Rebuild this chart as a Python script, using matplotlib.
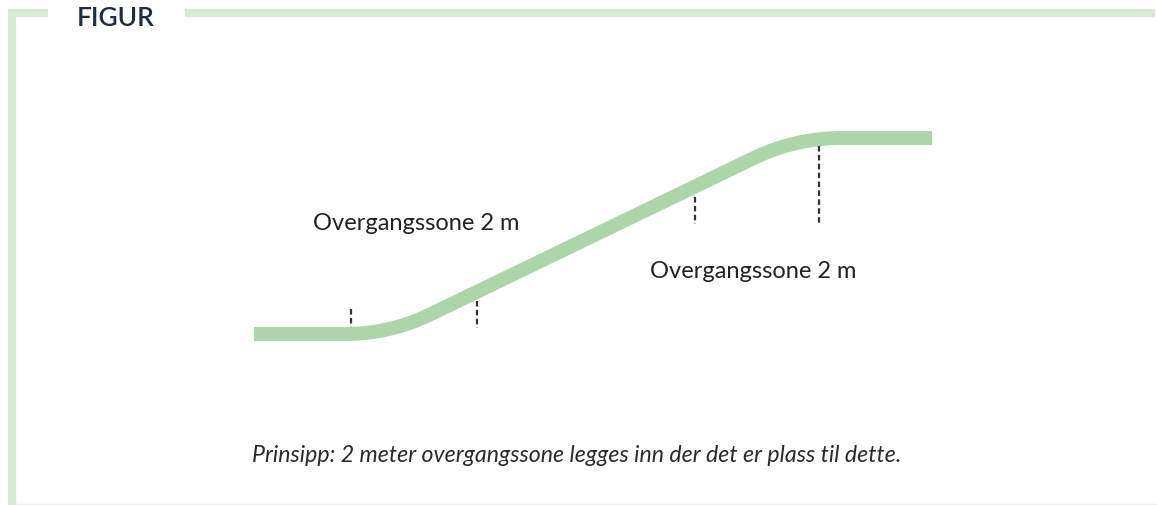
import numpy as np
from matplotlib import pyplot as plt

# profile of the slope (x, y in picture units, y downward)
flat_low = [(254, 335), (345, 335)]
bend_low = [(345, 335), (389, 335), (429, 316)]
bend_high = [(756, 158), (797, 139), (842, 139)]
flat_high = [(842, 139), (932, 139)]

# dashed markers: x, y_top, y_bottom
marker_x = [351, 477, 695, 819]
marker_top = [310, 302, 198, 147]
marker_bottom = [328, 329, 225, 225]

labels = ["Overgangssone 2 m", "Overgangssone 2 m"]
label_pos = [(313, 224), (650, 272)]
caption = "Prinsipp: 2 meter overgangssone legges inn der det er plass til dette."

GREEN = "#acd5a9"
FRAME = "#d7ead5"


def bezier(p0, p1, p2, n=40):
    t = np.linspace(0, 1, n)[:, None]
    p0, p1, p2 = np.array(p0), np.array(p1), np.array(p2)
    return (1 - t) ** 2 * p0 + 2 * (1 - t) * t * p1 + t ** 2 * p2


pts = np.vstack([np.array(flat_low), bezier(*bend_low), bezier(*bend_high), np.array(flat_high)])

fig = plt.figure(figsize=(11.57, 5.06), dpi=100)
ax = fig.add_axes([0, 0, 1, 1])
ax.set_xlim(0, 1157)
ax.set_ylim(506, 0)
ax.axis('off')

# frame
ax.plot([12, 12], [506, 14], color=FRAME, lw=6, solid_capstyle='butt')
ax.plot([8, 48], [14, 14], color=FRAME, lw=6, solid_capstyle='butt')
ax.plot([185, 1155], [14, 14], color=FRAME, lw=6, solid_capstyle='butt')
ax.plot([16, 1157], [505, 505], color="#eeeeee", lw=1)

ax.text(77, 18, "FIGUR", fontsize=19, family="Lato", fontweight="semibold", color="#1f2a44", va="center")

ax.plot(pts[:, 0], pts[:, 1], color=GREEN, lw=10, solid_capstyle='butt', solid_joinstyle='round')

for x, y0, y1 in zip(marker_x, marker_top, marker_bottom):
    ax.plot([x, x], [y0, y1], color="#333333", lw=1.6, ls=(0, (2.5, 1.5)))

for txt, (x, y) in zip(labels, label_pos):
    ax.text(x, y, txt, fontsize=17, family="Lato", color="#222222", va="center", ha="left")

ax.text(252, 456, caption, fontsize=16.7, family="Lato", style="italic", color="#2a2a2a", va="center")

fig.savefig("out.png", dpi=100)
